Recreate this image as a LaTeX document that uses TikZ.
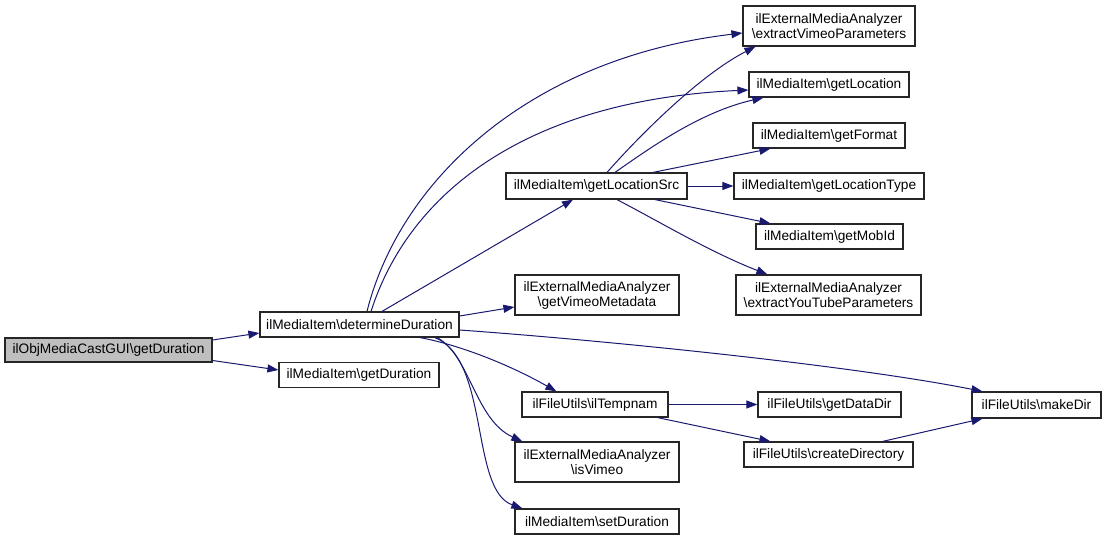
\documentclass[tikz,border=0pt]{standalone}
\usepackage{fontspec}
\setmainfont{Liberation Sans}
\usetikzlibrary{arrows.meta,calc}
\definecolor{edgec}{HTML}{191970}
\definecolor{rootc}{HTML}{BFBFBF}
\begin{document}
\begin{tikzpicture}[x=1pt,y=-1pt,
  box/.style={draw=black!85,line width=1.2pt,fill=white,inner sep=0pt,align=center,
    font=\fontsize{13.7}{15}\selectfont},
  rootbox/.style={box,fill=rootc},
  edge/.style={draw=edgec,line width=1pt,-{Triangle[length=11pt,width=8pt]}}]
\useasboundingbox (0,0) rectangle (1107,541);
% nodes
\node[rootbox,minimum width=207pt,minimum height=24pt] (gui) at (108.5,350) {ilObjMediaCastGUI\textbackslash getDuration};
\node[box,minimum width=199pt,minimum height=25pt] (dd) at (359.5,324.5) {ilMediaItem\textbackslash determineDuration};
\node[box,minimum width=160pt,minimum height=25pt] (gd) at (359,375) {ilMediaItem\textbackslash getDuration};
\node[box,minimum width=181pt,minimum height=26pt] (lsrc) at (596.5,186) {ilMediaItem\textbackslash getLocationSrc};
\node[box,minimum width=164pt,minimum height=40pt] (vmeta) at (597,295) {ilExternalMediaAnalyzer\\\textbackslash getVimeoMetadata};
\node[box,minimum width=146pt,minimum height=25pt] (tmp) at (595,404.5) {ilFileUtils\textbackslash ilTempnam};
\node[box,minimum width=164pt,minimum height=40pt] (isv) at (597,462) {ilExternalMediaAnalyzer\\\textbackslash isVimeo};
\node[box,minimum width=164pt,minimum height=25pt] (setd) at (597,521.5) {ilMediaItem\textbackslash setDuration};
\node[box,minimum width=172pt,minimum height=40pt] (evp) at (829,26) {ilExternalMediaAnalyzer\\\textbackslash extractVimeoParameters};
\node[box,minimum width=160pt,minimum height=25pt] (gloc) at (829,84.5) {ilMediaItem\textbackslash getLocation};
\node[box,minimum width=152pt,minimum height=25pt] (gfmt) at (829,135.5) {ilMediaItem\textbackslash getFormat};
\node[box,minimum width=190pt,minimum height=26pt] (gltype) at (829,186) {ilMediaItem\textbackslash getLocationType};
\node[box,minimum width=147pt,minimum height=25pt] (mob) at (829.5,236.5) {ilMediaItem\textbackslash getMobId};
\node[box,minimum width=185pt,minimum height=40pt] (eyt) at (828.5,295) {ilExternalMediaAnalyzer\\\textbackslash extractYouTubeParameters};
\node[box,minimum width=143pt,minimum height=25pt] (gdd) at (829.5,404.5) {ilFileUtils\textbackslash getDataDir};
\node[box,minimum width=169pt,minimum height=25pt] (cdir) at (828.5,454.5) {ilFileUtils\textbackslash createDirectory};
\node[box,minimum width=129pt,minimum height=26pt] (mk) at (1036.5,405) {ilFileUtils\textbackslash makeDir};
% edges
\draw[edge] ($(gui.east)+(0,-10)$) -- ($(dd.west)+(0,8.5)$);
\draw[edge] ($(gui.east)+(0,10.5)$) -- ($(gd.west)+(0,-5)$);
\draw[edge] ($(dd.north)+(7.5,0)$) .. controls (400,180) and (530,58) .. ($(evp.west)+(0,7)$);
\draw[edge] ($(dd.north)+(11.5,0)$) .. controls (410,190) and (530,100) .. ($(gloc.west)+(0,5.5)$);
\draw[edge] ($(dd.north)+(22.5,0)$) -- ($(lsrc.south)+(-23.5,0)$);
\draw[edge] ($(dd.east)+(0,-8.5)$) -- ($(vmeta.west)+(0,12)$);
\draw[edge] ($(dd.east)+(0,5.5)$) .. controls (600,340) and (850,365) .. ($(mk.north west)+(11,0)$);
\draw[edge] ($(dd.south)+(60.5,0)$) .. controls (460,345) and (510,365) .. ($(tmp.north west)+(35,0)$);
\draw[edge] ($(dd.south)+(77.5,0)$) .. controls (470,355) and (475,420) .. ($(isv.north west)+(8,0)$);
\draw[edge] ($(dd.south)+(75.5,0)$) .. controls (490,360) and (470,490) .. ($(setd.north west)+(8,0)$);
\draw[edge] ($(lsrc.north)+(10.5,0)$) .. controls (640,135) and (700,75) .. ($(evp.south west)+(13,0)$);
\draw[edge] ($(lsrc.north)+(18.5,0)$) .. controls (650,148) and (700,112) .. ($(gloc.south west)+(15,0)$);
\draw[edge] ($(lsrc.north)+(56.5,0)$) -- ($(gfmt.south west)+(18,0)$);
\draw[edge] (lsrc.east) -- (gltype.west);
\draw[edge] ($(lsrc.south)+(58.5,0)$) -- ($(mob.north west)+(15,0)$);
\draw[edge] ($(lsrc.south)+(20.5,0)$) .. controls (660,222) and (710,252) .. ($(eyt.north west)+(32,0)$);
\draw[edge] (tmp.east) -- (gdd.west);
\draw[edge] ($(tmp.south east)+(-11,0)$) -- ($(cdir.north west)+(27,0)$);
\draw[edge] ($(cdir.north east)+(-31,0)$) -- ($(mk.south west)+(11,0)$);
\end{tikzpicture}
\end{document}
